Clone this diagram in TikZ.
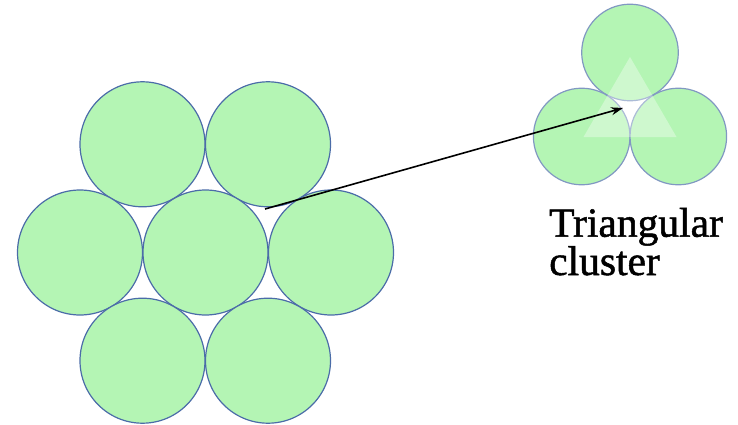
\documentclass[tikz,border=0pt]{standalone}
\usepackage{fontspec}
\newfontfamily\capfont[FakeBold=1.2]{Liberation Serif}
\usetikzlibrary{arrows.meta}
\definecolor{ballfill}{RGB}{180,245,180}
\definecolor{balledge}{RGB}{75,108,168}
\tikzset{
  ball/.style={circle, draw=balledge, line width=1.2pt, fill=ballfill,
               inner sep=0pt, minimum size=125pt},
  smallball/.style={ball, minimum size=96.6pt, draw=balledge!70},
  lbl/.style={anchor=base west, inner sep=0pt, font=\capfont\fontsize{41.5}{38}\selectfont},
  pointer/.style={-{Stealth[length=12pt,width=8pt]}, line width=1.6pt, black}
}
\begin{document}
\begin{tikzpicture}[x=1pt,y=-1pt]
  \useasboundingbox (0,0) rectangle (738,425);
  % hexagonal bundle of seven
  \node[ball] (tl) at (142.5,144.3) {};
  \node[ball] (tr) at (268,144.3) {};
  \node[ball] (l)  at (80,252.5) {};
  \node[ball] (c)  at (205.5,252.5) {};
  \node[ball] (r)  at (331,252.5) {};
  \node[ball] (bl) at (142.5,360.7) {};
  \node[ball] (br) at (268,360.7) {};
  % triangular cluster of three
  \node[smallball] (t1) at (630,52.5) {};
  \node[smallball] (t2) at (581.7,136.5) {};
  \node[smallball] (t3) at (678.3,136.5) {};
  \fill[white, opacity=0.35] (630,57) -- (583.5,137) -- (676.5,137) -- cycle;
  % arrow from the interstice to the cluster
  \coordinate (from) at (265,209);
  \coordinate (to) at (623,108);
  \draw[pointer] (from) -- (to);
  % caption
  \node[lbl] (cap1) at (549,236.7) {Triangular};
  \node[lbl] (cap2) at (549,275) {cluster};
\end{tikzpicture}
\end{document}
